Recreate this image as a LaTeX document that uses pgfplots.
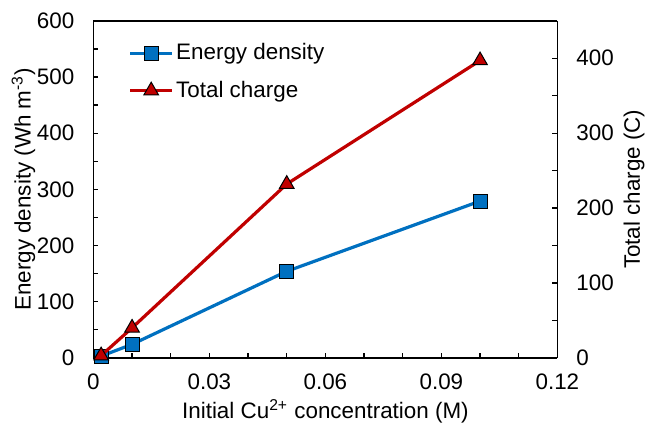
\documentclass[border=0pt]{standalone}
\usepackage{fontspec}
\setmainfont{Liberation Sans}
\usepackage{pgfplots}
\pgfplotsset{compat=1.18}
\definecolor{exblue}{HTML}{0070C0}
\definecolor{exred}{HTML}{C00000}

\pgfplotsset{
  common/.style={
    at={(0,0)}, anchor=south west,
    width=232pt, height=168.5pt, scale only axis,
    xmin=0, xmax=0.12,
    tick align=inside,
    major tick length=2.5pt, minor tick length=2.5pt,
    every tick/.style={black, line width=0.6pt},
    axis line style={line width=0.75pt},
    tick label style={font=\fontsize{11.2}{13}\selectfont},
    label style={font=\fontsize{11.2}{13}\selectfont},
    /pgf/number format/assume math mode=true,
    clip=false,
  },
}

\begin{document}
\begin{tikzpicture}
\useasboundingbox (-46.7pt,-33.6pt) rectangle ++(323pt,212.5pt);
\begin{axis}[common,
    axis y line*=left, axis x line*=bottom,
    ymin=0, ymax=600,
    ytick={0,100,...,600}, minor y tick num=1,
    xtick={0,0.03,0.06,0.09,0.12},
    xticklabels={0,0.03,0.06,0.09,0.12},
    minor x tick num=2,
    yticklabel style={xshift=-6pt},
    xticklabel style={yshift=-4.5pt},
    xlabel={Initial Cu\textsuperscript{2+} concentration (M)},
    ylabel={Energy density (Wh m\textsuperscript{-3})},
    xlabel style={yshift=2pt},
    ylabel style={yshift=-6pt},
]
\addplot[exblue, line width=1.6pt, mark=square*,
    mark options={fill=exblue, draw=black, line width=0.5pt}, mark size=3.5pt]
  coordinates {(0.002,3) (0.01,24) (0.05,154) (0.1,279)};
\draw[line width=0.75pt] (rel axis cs:0,1) -- (rel axis cs:1,1);
\end{axis}
\begin{axis}[common,
    axis y line*=right, axis x line=none,
    ymin=0, ymax=450,
    ytick={0,100,...,400}, minor y tick num=1,
    yticklabel style={xshift=6pt},
    ylabel={Total charge (C)},
    ylabel style={yshift=2pt},
    legend style={at={(rel axis cs:0.075,0.945)}, anchor=north west,
      draw=none, fill=none, font=\fontsize{11.2}{13}\selectfont,
      row sep=5pt, inner sep=0pt, nodes={inner xsep=1.2pt}},
    legend cell align=left,
    legend image code/.code={
      \draw[mark repeat=2, mark phase=2] plot coordinates {(0pt,0pt) (10.5pt,0pt) (21pt,0pt)};
    },
]
\addlegendimage{exblue, line width=1.6pt, mark=square*,
    mark options={fill=exblue, draw=black, line width=0.5pt}, mark size=3.5pt}
\addlegendentry{Energy density}
\addplot[exred, line width=1.6pt, mark=triangle*,
    mark options={fill=exred, draw=black, line width=0.5pt}, mark size=4.2pt]
  coordinates {(0.002,3) (0.01,40) (0.05,232) (0.1,397)};
\addlegendentry{Total charge}
\end{axis}
\end{tikzpicture}
\end{document}
